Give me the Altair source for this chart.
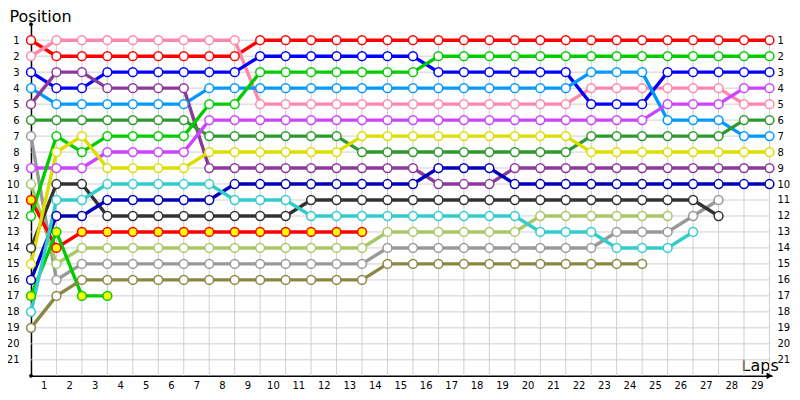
import altair as alt
import pandas as pd

# ---- data: positions by lap (lap 0 = start) ----
drivers = ["red", "pink", "blue", "lightblue", "purple", "darkgreen", "gray",
           "violet", "yellowgreen", "red_y", "green", "black", "yellow",
           "navy", "green_y", "turquoise", "olive"]
colors = ["#ff0000", "#ff88aa", "#0000ff", "#0099ff", "#8b3a9a", "#2e9a2e", "#999999",
          "#cc44ff", "#a8c868", "#ff0000", "#00cc00", "#333333", "#dddd00",
          "#0000bb", "#00cc00", "#33cccc", "#888844"]
fills = ["#ffffff", "#ffffff", "#ffffff", "#ffffff", "#ffffff", "#ffffff", "#ffffff",
         "#ffffff", "#ffffff", "#ffff00", "#ffffff", "#ffffff", "#ffffff",
         "#ffffff", "#ffff00", "#ffffff", "#ffffff"]

red = [1, 2, 2, 2, 2, 2, 2, 2, 2] + [1] * 21
pink = [2, 1, 1, 1, 1, 1, 1, 1, 1] + [5] * 13 + [4] * 6 + [5, 5]
blue = [3, 4, 4] + [3] * 6 + [2] * 7 + [3] * 6 + [5] * 3 + [3] * 5
lightblue = [4] + [5] * 6 + [4] * 15 + [3] * 3 + [6] * 3 + [7] * 2
purple = [5, 3, 3] + [4] * 4 + [9] * 9 + [10] * 3 + [9] * 11
darkgreen = [6] * 7 + [7] * 6 + [8] * 9 + [7] * 6 + [6] * 2
gray = [7, 16] + [15] * 12 + [14] * 9 + [13] * 3 + [12, 11]
violet = [9] * 3 + [8] * 4 + [6] * 18 + [5] * 3 + [4] * 2
yellowgreen = [10, 15] + [14] * 12 + [13] * 6 + [12] * 6
red_y = [11, 14] + [13] * 12
green = [12, 7, 8] + [7] * 4 + [5] * 2 + [3] * 7 + [2] * 14
black = [14, 10, 10] + [12] * 8 + [11] * 16 + [12]
yellow = [15, 8, 7] + [9] * 4 + [8] * 6 + [7] * 9 + [8] * 8
navy = [16, 12, 12] + [11] * 5 + [10] * 8 + [9] * 3 + [10] * 11
green_y = [17, 13, 17, 17]
turquoise = [18, 11, 11] + [10] * 5 + [11] * 3 + [12] * 9 + [13] * 3 + [14] * 3 + [13]
olive = [19, 17] + [16] * 12 + [15] * 11

series = [red, pink, blue, lightblue, purple, darkgreen, gray, violet, yellowgreen,
          red_y, green, black, yellow, navy, green_y, turquoise, olive]

lap_labels = list(range(1, 30))
position_labels = list(range(1, 22))

rows = []
for name, vals in zip(drivers, series):
    for lap, p in enumerate(vals):
        rows.append({"driver": name, "lap": lap, "pos": p})
df = pd.DataFrame(rows)

FONT = "DejaVu Sans"
GRID = "#cfcfcf"

xscale = alt.Scale(domain=[0, 29.1], nice=False, zero=False)
yscale = alt.Scale(domain=[0, 22], reverse=True, nice=False, zero=False)
cscale = alt.Scale(domain=drivers, range=colors)
fscale = alt.Scale(domain=drivers, range=fills)

xaxis = alt.Axis(values=lap_labels, grid=False, ticks=False, domain=True,
                 domainColor="black", domainWidth=1.5, labelOffset=-12.75,
                 labelPadding=5, labelFont=FONT, labelFontSize=10, labelColor="black",
                 title="Laps", titleFont=FONT, titleFontSize=16, titleFontWeight="normal",
                 titleColor="black", titleAlign="left", titleBaseline="alphabetic",
                 titleX=711, titleY=-5, titleAngle=0)
yaxis_left = alt.Axis(values=position_labels, grid=False, ticks=False, domain=True,
                      domainColor="black", domainWidth=1.5, labelPadding=12,
                      labelFont=FONT, labelFontSize=10, labelColor="black",
                      title="Position", titleFont=FONT, titleFontSize=16,
                      titleFontWeight="normal", titleColor="black", titleAngle=0,
                      titleAlign="left", titleBaseline="alphabetic",
                      titleX=-22, titleY=-3)
yaxis_right = alt.Axis(values=position_labels, grid=False, ticks=False, domain=False,
                       orient="right", labelPadding=5, labelFont=FONT, labelFontSize=10,
                       labelColor="black", title=None)

hgrid = alt.Chart(pd.DataFrame({"pos": position_labels})).mark_rule(
    color=GRID, strokeWidth=1).encode(
    y=alt.Y("pos:Q", scale=yscale, axis=None),
    x=alt.datum(0, scale=xscale, axis=xaxis), x2=alt.datum(29))

vgrid = alt.Chart(pd.DataFrame({"lap": lap_labels})).mark_rule(
    color=GRID, strokeWidth=1).encode(
    x=alt.X("lap:Q", scale=xscale, axis=xaxis),
    y=alt.datum(0.8, scale=yscale, axis=None), y2=alt.datum(22))

lines = alt.Chart(df).mark_line(strokeWidth=3.4).encode(
    x=alt.X("lap:Q", scale=xscale, axis=xaxis),
    y=alt.Y("pos:Q", scale=yscale, axis=yaxis_left),
    color=alt.Color("driver:N", scale=cscale, legend=None),
    order=alt.Order("lap:Q"))

points = alt.Chart(df).mark_point(shape="circle", size=78, strokeWidth=1.5,
                                  opacity=1, fillOpacity=1, filled=True).encode(
    x=alt.X("lap:Q", scale=xscale, axis=xaxis),
    y=alt.Y("pos:Q", scale=yscale, axis=yaxis_right),
    fill=alt.Fill("driver:N", scale=fscale, legend=None),
    stroke=alt.Stroke("driver:N", scale=cscale, legend=None))

# axis-end adornments
top_dot = alt.Chart(pd.DataFrame({"k": [0]})).mark_point(
    shape="circle", filled=True, color="black", size=14, opacity=1).encode(
    x=alt.datum(0, scale=xscale, axis=xaxis), y=alt.datum(0, scale=yscale, axis=None))
corner_dot = alt.Chart(pd.DataFrame({"k": [0]})).mark_point(
    shape="circle", filled=True, color="black", size=14, opacity=1).encode(
    x=alt.datum(0, scale=xscale, axis=xaxis), y=alt.datum(22, scale=yscale, axis=None))
arrow = alt.Chart(pd.DataFrame({"k": [0]})).mark_point(
    shape="triangle-right", filled=True, color="black", size=45, opacity=1).encode(
    x=alt.datum(29.0, scale=xscale, axis=xaxis), y=alt.datum(22, scale=yscale, axis=None))

chart = alt.layer(hgrid, vgrid, lines, points, top_dot, corner_dot, arrow).resolve_scale(
    x="shared", y="shared").resolve_axis(y="independent").properties(
    width=742, height=352,
    autosize=alt.AutoSizeParams(type="none"),
    padding={"left": 23, "top": 16, "right": 20, "bottom": 22},
    background="white"
).configure_view(stroke=None)

chart.save("out.html", embed_options={"renderer": "svg", "actions": False})
